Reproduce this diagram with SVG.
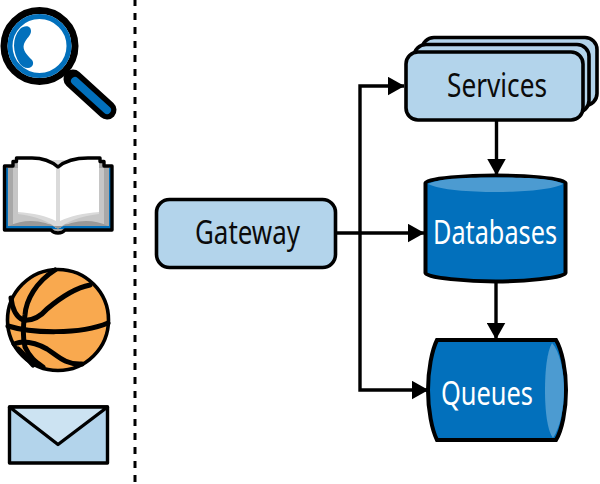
<svg xmlns="http://www.w3.org/2000/svg" width="600" height="484" viewBox="0 0 600 484">
<style>
.ln{fill:none;stroke:#000;stroke-width:3.4}
.light{fill:#b3d4eb;stroke:#000;stroke-width:3.6}
.dark{fill:#0270bc;stroke:#000;stroke-width:4}
.hi{fill:#4c9bd1}
.t{font-family:"Noto Sans","Liberation Sans",sans-serif;font-size:33px;text-anchor:start}
.b{fill:none;stroke:#000;stroke-width:5;stroke-linecap:round;stroke-linejoin:round}
</style>
<defs>
<marker id="ah" markerUnits="userSpaceOnUse" markerWidth="17" markerHeight="19" refX="16.500" refY="9.500" orient="auto"><path d="M0 0L17 9.500L0 19Z" fill="#000"/></marker>
</defs>
<rect width="600" height="484" fill="#fff"/>
<line x1="135" y1="-1" x2="135" y2="484" stroke="#000" stroke-width="3" stroke-dasharray="7 7"/>
<g id="icon-search">
<line x1="73" y1="79" x2="107" y2="110" stroke="#000" stroke-width="19" stroke-linecap="round"/>
<line x1="75" y1="81" x2="107" y2="110" stroke="#0270bc" stroke-width="8" stroke-linecap="round"/>
<circle cx="39.500" cy="46" r="35.500" fill="#fff" stroke="#000" stroke-width="7"/>
<circle cx="39.500" cy="46" r="29.500" fill="none" stroke="#0270bc" stroke-width="5"/>
<path d="M20 29C24 25 31 25 31 31C31 36 26 38 24 44C22 50 27 55 31 59C35 62 33 68 28 68C24 68 22 66 20 64C12 52 12 38 20 29Z" fill="#0270bc"/>
</g>
<g id="icon-book">
<path d="M4.500 166H13V161.500H16.500V158H32C42 158 51 161 58 167C65 161 75 158 88 158H100V161.500H104V166H112V230H65C62 234 54 234 51 230H4.500Z" fill="#a8a8a8"/>
<path d="M6 168H8V226H109V168H111V229H6Z" fill="#0270bc"/>
<path d="M13 168H104V224H13Z" fill="#c6c6c6"/>
<path d="M18 160H99V214C80 216 66 222 60 228H56C50 222 36 216 18 214Z" fill="#dadada"/>
<path d="M18 159H32C42 159 51 162 56 168V221C47 216 33 213 18 212Z" fill="#fff"/>
<path d="M99 159H88C75 159 66 162 60 168V221C70 216 84 213 99 212Z" fill="#fff"/>
<path d="M9 226C25 218 45 220 58 229C72 220 92 218 108 226Z" fill="#999"/>
<path d="M4.500 166H13V161.500H16.500V158H32C42 158 51 161 58 167C65 161 75 158 88 158H100V161.500H104V166H112V230H65C62 234 54 234 51 230H4.500Z" fill="none" stroke="#000" stroke-width="3.400" stroke-linejoin="round"/>
</g>
<g id="icon-ball">
<circle cx="58" cy="320" r="50.500" fill="#f9a94f" stroke="#000" stroke-width="3.600"/>
<path class="b" d="M8 326C30 333 80 335 108 323"/>
<path class="b" d="M55 270C36 282 26 300 25 315C23 325 23 338 25 347C30 358 36 362 43 367"/>
<path class="b" d="M11 298C12 306 14 316 23 320C32 321 40 317 47 309C60 298 75 288 90 285"/>
<path class="b" d="M14 344C17 343 20 342 23 342C32 342 40 345 47 349C58 356 65 365 82 364"/>
<path class="b" d="M18 349C24 354 28 360 33 365"/>
</g>
<g id="icon-mail">
<rect x="9.500" y="407" width="98" height="56" fill="#b3d4eb" stroke="#000" stroke-width="3.400" stroke-linejoin="round"/>
<path d="M9.500 407H107.500L58 444.500Z" fill="#cce3f2" stroke="#000" stroke-width="3.400" stroke-linejoin="round"/>
</g>
<g id="connectors">
<path class="ln" d="M337 233H424" marker-end="url(#ah)"/>
<path class="ln" d="M360 233V86H404" marker-end="url(#ah)"/>
<path class="ln" d="M360 233V390H428" marker-end="url(#ah)"/>
<path class="ln" d="M496.500 121V175" marker-end="url(#ah)"/>
<path class="ln" d="M496 283V339" marker-end="url(#ah)"/>
</g>
<g id="node-gateway">
<rect class="light" x="156.500" y="199.500" width="179" height="68" rx="13"/>
<text class="t" x="195" y="244" textLength="105" lengthAdjust="spacingAndGlyphs" fill="#0b0b0b">Gateway</text>
</g>
<g id="node-services">
<rect class="light" x="422" y="37.500" width="175" height="68" rx="12"/>
<rect class="light" x="414" y="44.500" width="175" height="68" rx="12"/>
<rect class="light" x="406" y="52" width="177" height="68" rx="12"/>
<text class="t" x="447" y="97" textLength="100" lengthAdjust="spacingAndGlyphs" fill="#0b0b0b">Services</text>
</g>
<g id="node-databases">
<path class="dark" d="M425.500 183C425.500 178 470 175.500 495.500 175.500C521 175.500 565.500 178 565.500 183V273C565.500 278 521 281.500 495.500 281.500C470 281.500 425.500 278 425.500 273Z"/>
<path class="hi" d="M428 184C440 178 470 177.500 495.500 177.500C521 177.500 552 178 563 184C552 190 521 192 495.500 192C470 192 440 190 428 184Z"/>
<text class="t" x="433" y="244" textLength="124" lengthAdjust="spacingAndGlyphs" fill="#fff">Databases</text>
</g>
<g id="node-queues">
<path class="dark" d="M437 340H556C562 350 566 370 566 390C566 410 562 430 556 440H437C432 430 428 410 428 390C428 370 432 350 437 340Z"/>
<path class="hi" d="M552 343C560 352 564 372 564 390C564 408 560 428 553 438C547 430 545 410 545 390C545 370 547 352 552 343Z"/>
<text class="t" x="441" y="405" textLength="92" lengthAdjust="spacingAndGlyphs" fill="#fff">Queues</text>
</g>
</svg>
